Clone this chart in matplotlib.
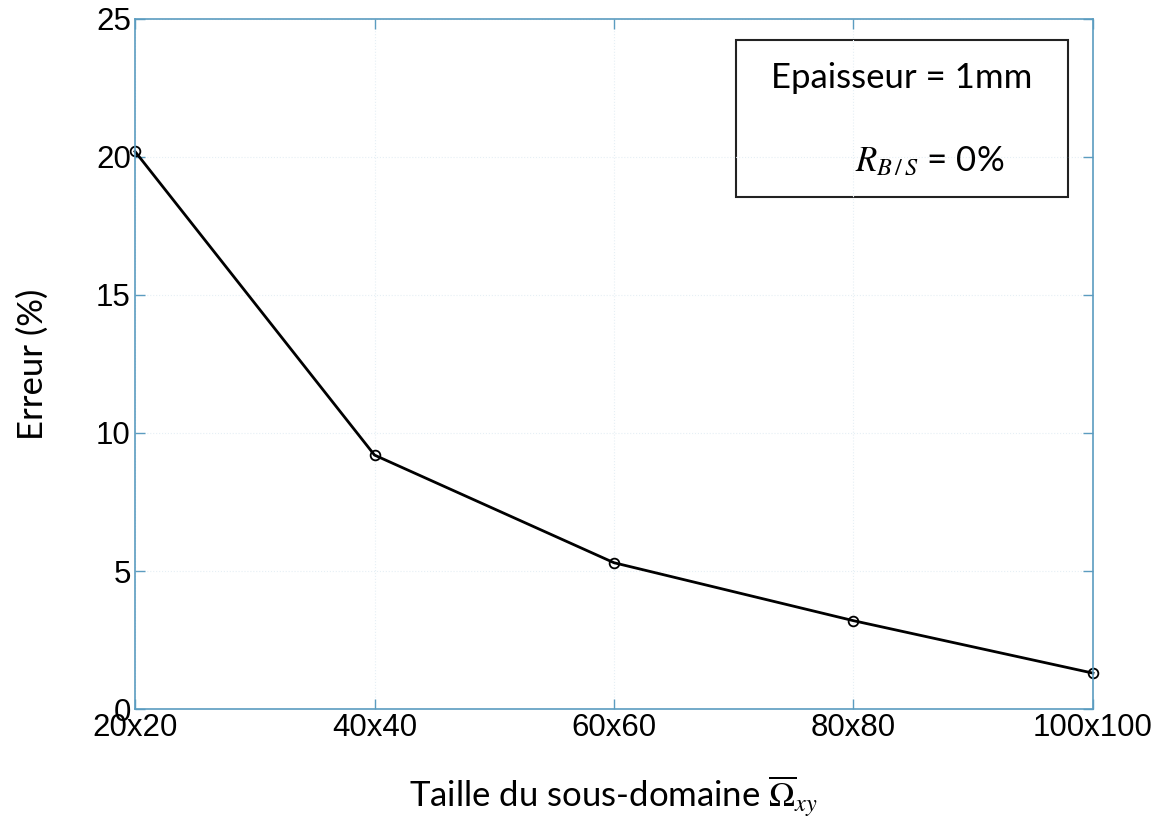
import matplotlib
matplotlib.use('Agg')
import matplotlib.pyplot as plt

plt.rcParams['mathtext.fontset'] = 'stix'

# data
tailles = ['20x20', '40x40', '60x60', '80x80', '100x100']
erreur = [20.2, 9.2, 5.3, 3.2, 1.3]
yticks = [0, 5, 10, 15, 20, 25]

axe_col = '#5b9cc0'

fig = plt.figure(figsize=(11.6, 8.36), dpi=100)
ax = fig.add_axes([0.1164, 0.1519, 0.8258, 0.8254])

x = list(range(len(tailles)))
ax.plot(x, erreur, color='black', lw=2, marker='o', ms=7,
        mfc='none', mec='black', mew=1.3, clip_on=False)

ax.set_xlim(0, len(tailles) - 1)
ax.set_ylim(0, 25)
ax.set_xticks(x)
ax.set_xticklabels(tailles)
ax.set_yticks(yticks)

ax.grid(True, color='#e6eff5', ls=':', lw=0.8)
for sp in ax.spines.values():
    sp.set_color(axe_col)
    sp.set_linewidth(1.2)
ax.tick_params(direction='in', length=7, color=axe_col, width=1,
               labelsize=22.5, top=True, right=True, pad=3)
for lab in ax.get_xticklabels() + ax.get_yticklabels():
    lab.set_family('Liberation Sans')

ax.set_ylabel('Erreur (%)', fontsize=25, family='Lato', labelpad=34)
ax.set_xlabel(r'Taille du sous-domaine $\overline{\Omega}_{xy}$',
              fontsize=25, family='Lato', labelpad=22)

# encadré
box = plt.Rectangle((0.627, 0.742), 0.347, 0.228, transform=ax.transAxes,
                    fill=False, ec='#222222', lw=1.5)
ax.add_patch(box)
ax.text(0.800, 0.915, 'Epaisseur = 1mm', transform=ax.transAxes,
        fontsize=25, family='Lato', ha='center', va='center')
ax.text(0.830, 0.793, r'$R_{B\,/\,S}$ = 0%', transform=ax.transAxes,
        fontsize=25, family='Lato', ha='center', va='center')

fig.savefig('out.png', dpi=100)
